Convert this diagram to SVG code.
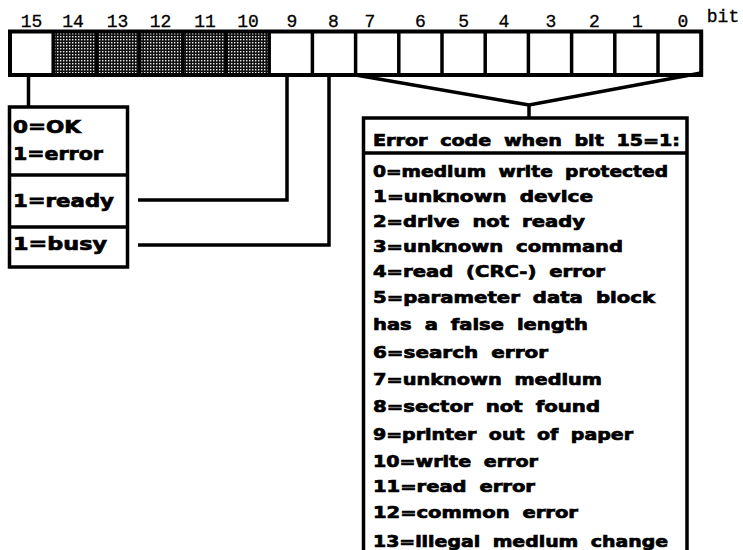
<svg xmlns="http://www.w3.org/2000/svg" width="743" height="550" viewBox="0 0 743 550">
<style>
.bitlbl{font-family:"Liberation Mono","Courier New",monospace;font-size:18px;fill:#000;stroke:#000;stroke-width:0.3;text-anchor:middle}
.t{font-family:"DejaVu Sans","Liberation Sans",Arial,sans-serif;font-weight:bold;fill:#000;stroke:#000;stroke-width:0.7;word-spacing:5px}
.e{font-size:16px}
.l{font-size:18px}
.box{fill:#fff;stroke:#000;stroke-width:3.5}
.ln{fill:none;stroke:#000;stroke-width:3.5;stroke-linejoin:miter}
.sep{stroke:#000;stroke-width:3.5}
</style>
<defs>
<pattern id="dots" width="3" height="3" patternUnits="userSpaceOnUse">
<rect width="3" height="3" fill="#111"/>
<rect x="0" y="0" width="1.4" height="1.4" fill="#eee"/>
</pattern>
</defs>
<rect width="743" height="550" fill="#fff"/>

<g id="bit-labels">
<text class="bitlbl" x="31.6" y="27">15</text>
<text class="bitlbl" x="73" y="27">14</text>
<text class="bitlbl" x="117.5" y="27">13</text>
<text class="bitlbl" x="160.5" y="27">12</text>
<text class="bitlbl" x="205" y="27">11</text>
<text class="bitlbl" x="248" y="27">10</text>
<text class="bitlbl" x="292" y="27">9</text>
<text class="bitlbl" x="333.5" y="27">8</text>
<text class="bitlbl" x="370" y="27">7</text>
<text class="bitlbl" x="420.4" y="27">6</text>
<text class="bitlbl" x="463.6" y="27">5</text>
<text class="bitlbl" x="504" y="27">4</text>
<text class="bitlbl" x="551" y="27">3</text>
<text class="bitlbl" x="594.5" y="27">2</text>
<text class="bitlbl" x="637.5" y="27">1</text>
<text class="bitlbl" x="683" y="27">0</text>
<text class="bitlbl" x="723" y="22">bit</text>
</g>

<g id="register">
<rect x="10" y="31.5" width="691.2" height="43.5" fill="#fff"/>
<rect x="53.2" y="31.5" width="216" height="43.5" fill="url(#dots)"/>
<line class="sep" x1="53.2" y1="31.5" x2="53.2" y2="75"/>
<line class="sep" x1="96.4" y1="31.5" x2="96.4" y2="75"/>
<line class="sep" x1="139.6" y1="31.5" x2="139.6" y2="75"/>
<line class="sep" x1="182.8" y1="31.5" x2="182.8" y2="75"/>
<line class="sep" x1="226" y1="31.5" x2="226" y2="75"/>
<line class="sep" x1="269.2" y1="31.5" x2="269.2" y2="75"/>
<line class="sep" x1="312.4" y1="31.5" x2="312.4" y2="75"/>
<line class="sep" x1="355.6" y1="31.5" x2="355.6" y2="75"/>
<line class="sep" x1="398.8" y1="31.5" x2="398.8" y2="75"/>
<line class="sep" x1="442" y1="31.5" x2="442" y2="75"/>
<line class="sep" x1="485.2" y1="31.5" x2="485.2" y2="75"/>
<line class="sep" x1="528.4" y1="31.5" x2="528.4" y2="75"/>
<line class="sep" x1="571.6" y1="31.5" x2="571.6" y2="75"/>
<line class="sep" x1="614.8" y1="31.5" x2="614.8" y2="75"/>
<line class="sep" x1="658" y1="31.5" x2="658" y2="75"/>
<rect x="10" y="31.5" width="691.2" height="43.5" fill="none" stroke="#000" stroke-width="4"/>
</g>

<g id="connectors">
<line class="ln" x1="28.5" y1="75" x2="28.5" y2="107"/>
<polyline class="ln" points="287,75 287,200 138,200"/>
<polyline class="ln" points="329,75 329,245 138,245"/>
<polyline class="ln" points="355.6,75 529,105 701,73"/>
<line class="ln" x1="529" y1="105" x2="529" y2="117"/>
</g>

<g id="status-box">
<rect class="box" x="9.5" y="107" width="118" height="160"/>
<line class="sep" x1="9.5" y1="175" x2="127.5" y2="175"/>
<line class="sep" x1="9.5" y1="227" x2="127.5" y2="227"/>
<text class="t l" x="13" y="133" textLength="68" lengthAdjust="spacingAndGlyphs">0=OK</text>
<text class="t l" x="13" y="160" textLength="90" lengthAdjust="spacingAndGlyphs">1=error</text>
<text class="t l" x="13" y="207" textLength="101" lengthAdjust="spacingAndGlyphs">1=ready</text>
<text class="t l" x="13" y="250" textLength="94" lengthAdjust="spacingAndGlyphs">1=busy</text>
</g>

<g id="error-box">
<path class="ln" d="M363.5,553 V118 H687 V553" fill="#fff"/>
<line class="sep" x1="363.5" y1="153" x2="687" y2="153"/>
<text class="t e" x="373" y="146" textLength="307" lengthAdjust="spacingAndGlyphs">Error code when bit 15=1:</text>
<text class="t e" x="373" y="177" textLength="295" lengthAdjust="spacingAndGlyphs">0=medium write protected</text>
<text class="t e" x="373" y="202" textLength="220" lengthAdjust="spacingAndGlyphs">1=unknown device</text>
<text class="t e" x="373" y="227" textLength="212" lengthAdjust="spacingAndGlyphs">2=drive not ready</text>
<text class="t e" x="373" y="252" textLength="250" lengthAdjust="spacingAndGlyphs">3=unknown command</text>
<text class="t e" x="373" y="277" textLength="232" lengthAdjust="spacingAndGlyphs">4=read (CRC-) error</text>
<text class="t e" x="373" y="303" textLength="282" lengthAdjust="spacingAndGlyphs">5=parameter data block</text>
<text class="t e" x="373" y="330" textLength="215" lengthAdjust="spacingAndGlyphs">has a false length</text>
<text class="t e" x="373" y="358" textLength="175" lengthAdjust="spacingAndGlyphs">6=search error</text>
<text class="t e" x="373" y="385" textLength="229" lengthAdjust="spacingAndGlyphs">7=unknown medium</text>
<text class="t e" x="373" y="412" textLength="227" lengthAdjust="spacingAndGlyphs">8=sector not found</text>
<text class="t e" x="373" y="440" textLength="260" lengthAdjust="spacingAndGlyphs">9=printer out of paper</text>
<text class="t e" x="373" y="467" textLength="165" lengthAdjust="spacingAndGlyphs">10=write error</text>
<text class="t e" x="373" y="492" textLength="162" lengthAdjust="spacingAndGlyphs">11=read error</text>
<text class="t e" x="373" y="518" textLength="205" lengthAdjust="spacingAndGlyphs">12=common error</text>
<text class="t e" x="373" y="547" textLength="295" lengthAdjust="spacingAndGlyphs">13=illegal medium change</text>
</g>
</svg>
